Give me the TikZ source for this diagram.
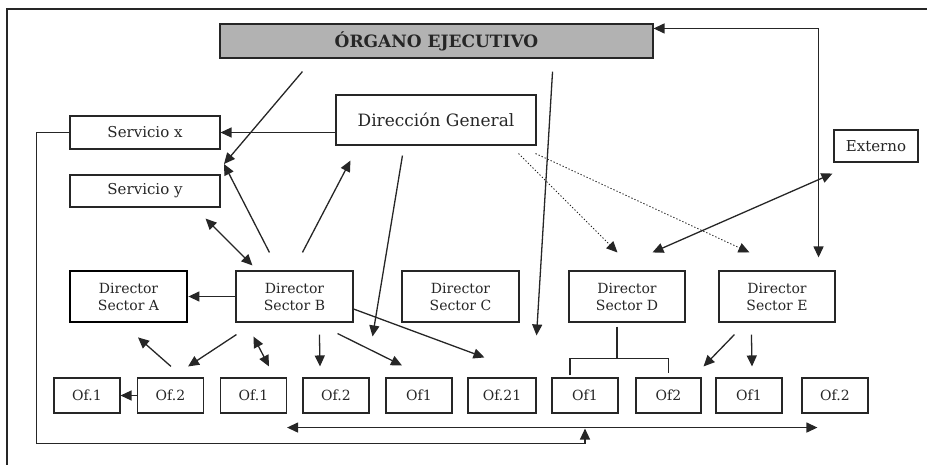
\documentclass[tikz,border=0pt]{standalone}
\usepackage{fontspec}
\setmainfont{DejaVu Serif}
\usetikzlibrary{arrows.meta}

\begin{document}
\begin{tikzpicture}[x=0.5pt,y=-0.5pt,
box/.style={draw=linecolor, line width=0.55pt, inner sep=1pt, align=center, text=textcolor},
servbox/.style={box, minimum width=75pt, minimum height=16.5pt, font=\fontsize{7.5}{9}\selectfont},
dirbox/.style={box, minimum width=58.5pt, minimum height=25.5pt, font=\fontsize{7}{8.5}\selectfont},
ofbox/.style={box, minimum width=33pt, minimum height=17.5pt, font=\fontsize{7}{8.5}\selectfont},
arr/.style={-{Triangle[length=5.5pt,width=5pt]}, line width=0.65pt, draw=linecolor},
darr/.style={{Triangle[length=5.5pt,width=5pt]}-{Triangle[length=5.5pt,width=5pt]}, line width=0.65pt, draw=linecolor},
dotarr/.style={arr, densely dotted, line width=0.45pt},
plain/.style={line width=0.55pt, draw=linecolor}]

% Define chart colors
\colorlet{linecolor}{black!85}
\colorlet{textcolor}{black!85}
\colorlet{headcolor}{black!30}

\useasboundingbox (0,0) rectangle (927,465);
\draw[line width=1pt, draw=linecolor] (927,9) -- (7,9) -- (7,465); %frame is cut at right and bottom

% top level
\node[box, fill=headcolor, minimum width=216.5pt, minimum height=17pt, font=\fontsize{8.5}{10}\selectfont\bfseries] (organo) at (436.5,41) {ÓRGANO EJECUTIVO};
\node[box, minimum width=100pt, minimum height=25pt, font=\fontsize{8.5}{10}\selectfont] (dg) at (436,120) {Dirección General};
\node[servbox] (sx) at (145,132.5) {Servicio x};
\node[servbox, minimum height=16pt] (sy) at (145,191) {Servicio y};
\node[box, minimum width=42pt, minimum height=16pt, font=\fontsize{7.5}{9}\selectfont] (ext) at (876,146) {Externo};

% directors
\node[dirbox, line width=1.4pt, draw=black] (dirA) at (128.5,296.5) {Director\\Sector A};
\node[dirbox] (dirB) at (294.5,296.5) {Director\\Sector B};
\node[dirbox] (dirC) at (460.5,296.5) {Director\\Sector C};
\node[dirbox, minimum width=58pt] (dirD) at (627,296.5) {Director\\Sector D};
\node[dirbox, minimum width=58pt] (dirE) at (777,296.5) {Director\\Sector E};

% offices
\node[ofbox] (of1) at (87,395.5) {Of.1};
\node[ofbox] (of2) at (170.5,395.5) {Of.2};
\node[ofbox] (of3) at (253.5,395.5) {Of.1};
\node[ofbox] (of4) at (336,395.5) {Of.2};
\node[ofbox] (of5) at (419,395.5) {Of1};
\node[ofbox, minimum width=34pt] (of6) at (502,395.5) {Of.21};
\node[ofbox] (of7) at (585,395.5) {Of1};
\node[ofbox, minimum width=32.5pt] (of8) at (668.5,395.5) {Of2};
\node[ofbox] (of9) at (749,395.5) {Of1};
\node[ofbox] (of10) at (835,395.5) {Of.2};

\coordinate (jx) at (224,164);

% links from the top
\draw[arr] (dg.west |- sx.east) -- (sx.east);
\draw[arr] ([shift={(83,13)}]organo.south west) -- (jx);
\draw[arr] ([shift={(-101,13)}]organo.south east) -- ([shift={(0,-42)}]of6.north east);
\draw[darr] ([shift={(0,5)}]organo.north east) -| ([shift={(-17,-13)}]dirE.north east);
\draw[arr] ([shift={(67,10)}]dg.south west) -- ([shift={(3,-41)}]of4.north east);
\draw[dotarr] ([shift={(-18,8)}]dg.south east) -- ([shift={(49,-18)}]dirD.north west);
\draw[dotarr] ([shift={(-1,8)}]dg.south east) -- ([shift={(31,-18)}]dirE.north west);
\draw[darr] ([shift={(-1,11)}]ext.south west) -- ([shift={(84,-18)}]dirD.north west);

% links of sector B
\draw[arr] ([shift={(34,-18)}]dirB.north west) -- (jx);
\draw[arr] ([shift={(67,-18)}]dirB.north west) -- ([shift={(15,15)}]dg.south west);
\draw[darr] ([shift={(-15,11)}]sy.south east) -- ([shift={(17,-5)}]dirB.north west);
\draw[arr] (dirB.west) -- (dirA.east);
\draw[arr] ([shift={(0,12.5)}]dirB.east) -- ([shift={(17,-20)}]of6.north west);
\draw[arr] ([shift={(1,12)}]dirB.south west) -- ([shift={(-16,-11)}]of2.north east);
\draw[darr] ([shift={(18,14)}]dirB.south west) -- ([shift={(15.5,-11)}]of3.north);
\draw[arr] ([shift={(84,12)}]dirB.south west) -- ([shift={(-16,-11)}]of4.north);
\draw[arr] ([shift={(-16,11)}]dirB.south east) -- ([shift={(-17,-12)}]of5.north);
\draw[arr] ([shift={(0.5,-11)}]of2.north) -- ([shift={(9.5,14)}]dirA.south);
\draw[arr] (of2.west) -- (of1.east);

% sectors D and E
\draw[plain] ([shift={(-10,4)}]dirD.south) -- ([shift={(-10,36)}]dirD.south);
\draw[plain] ([shift={(-15,-2)}]of7.north) |- ([shift={(-10,36)}]dirD.south) -| ([shift={(0,-4)}]of8.north);
\draw[arr] ([shift={(16,12)}]dirE.south west) -- ([shift={(2,-11)}]of8.north east);
\draw[arr] ([shift={(33,12)}]dirE.south west) -- ([shift={(3,-11)}]of9.north);

% bottom lines
\draw[darr] ([shift={(0,14)}]of3.south east) -- ([shift={(16,14)}]of10.south west);
\draw[arr] (sx.west) -- ++(-33,0) |- ([shift={(0,30)}]of7.south) -- ([shift={(0,15)}]of7.south);
\end{tikzpicture}
\end{document}
